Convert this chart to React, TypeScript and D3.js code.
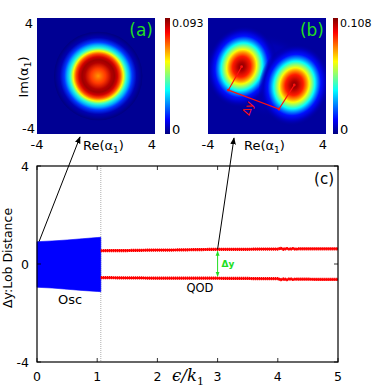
import * as d3 from "d3";

// ---- data ----
// panel (c): oscillating band envelope (Osc region)
const oscX = [0, 0.25, 0.5, 0.75, 1.0, 1.06];
const oscTop = [0.91, 0.94, 0.98, 1.03, 1.08, 1.09];
const oscBottom = [-0.95, -0.98, -1.03, -1.08, -1.12, -1.13];

// panel (c): QOD lobe positions
const qodX = [1.06, 1.25, 1.5, 1.75, 2.0, 2.25, 2.5, 2.75, 3.0, 3.25, 3.5, 3.75, 4.0, 4.05, 4.1, 4.15, 4.2, 4.25, 4.3, 4.35, 4.5, 4.75, 5.0];
const qodUpper = [0.54, 0.55, 0.55, 0.56, 0.57, 0.57, 0.58, 0.59, 0.6, 0.6, 0.6, 0.61, 0.61, 0.64, 0.6, 0.63, 0.6, 0.63, 0.6, 0.62, 0.62, 0.62, 0.62];
const qodLower = [-0.56, -0.56, -0.57, -0.57, -0.58, -0.58, -0.58, -0.58, -0.58, -0.59, -0.59, -0.6, -0.6, -0.64, -0.61, -0.64, -0.6, -0.63, -0.61, -0.62, -0.62, -0.63, -0.63];

const xTicksC = [0, 1, 2, 3, 4, 5];
const yTicksC = [-4, 0, 4];
const transitionX = 1.06;

// panel (a): radial profile of the ring (radius in alpha units, normalised value)
const ringR = [0, 0.5, 0.9, 1.1, 1.3, 1.5, 1.7, 1.9, 2.1, 2.3, 2.6, 3.0];
const ringV = [0.73, 0.82, 0.95, 0.97, 0.92, 0.8, 0.62, 0.42, 0.3, 0.18, 0.05, 0];
const ringCenter = [0.15, 0];
const maxA = "0.093";

// panel (b): two lobes
const lobeCenters = [[-1.72, 0.64], [1.85, -0.62]];
const lobeR = [0, 0.25, 0.6, 0.85, 1.0, 1.2, 1.38, 1.58, 1.78, 2.05, 2.4];
const lobeV = [1, 0.95, 0.85, 0.72, 0.62, 0.5, 0.38, 0.25, 0.14, 0.07, 0.02];
const maxB = "0.108";
// Δy guide in (b): corner points of the measuring bracket
const bracket = [[-1.72, 0.64], [-2.62, -0.97], [0.81, -2.28], [1.85, -0.62]];

// jet colormap stops
const jetStops = [0, 0.125, 0.375, 0.625, 0.875, 1];
const jetColors = ["#00007f", "#0000ff", "#00ffff", "#ffff00", "#ff0000", "#7f0000"];

const jet = d3.scaleLinear<string>().domain(jetStops).range(jetColors);

export default function App() {
  const font = "'DejaVu Sans', sans-serif";

  // scales
  const xC = d3.scaleLinear().domain([0, 5]).range([37, 338]);
  const yC = d3.scaleLinear().domain([-4, 4]).range([362, 166]);
  const xA = d3.scaleLinear().domain([-4, 4]).range([37, 155]);
  const xB = d3.scaleLinear().domain([-4, 4]).range([208, 326]);
  const yAB = d3.scaleLinear().domain([-4, 4]).range([134, 18]);
  const unit = xA(1) - xA(0);

  const band = d3
    .area<number>()
    .x((_, i) => xC(oscX[i]))
    .y0((_, i) => yC(oscBottom[i]))
    .y1((_, i) => yC(oscTop[i]));

  const line = d3
    .line<number>()
    .x((_, i) => xC(qodX[i]))
    .y((d) => yC(d));

  const bracketLine = d3
    .line<number[]>()
    .x((d) => xB(d[0]))
    .y((d) => yAB(d[1]));

  const iAt3 = qodX.indexOf(3);
  const ringMax = ringR[ringR.length - 1];
  const lobeMax = lobeR[lobeR.length - 1];

  return (
    <svg width={374} height={391} style={{ position: "absolute", left: 0, top: 0, background: "#fff" }} fontFamily={font}>
      <defs>
        <radialGradient id="ring">
          {ringR.map((r, i) => (
            <stop key={i} offset={r / ringMax} stopColor={jet(ringV[i])} />
          ))}
        </radialGradient>
        <radialGradient id="lobe">
          {lobeR.map((r, i) => (
            <stop key={i} offset={r / lobeMax} stopColor={jet(lobeV[i])} stopOpacity={i === lobeR.length - 1 ? 0 : 1} />
          ))}
        </radialGradient>
        <radialGradient id="halo">
          <stop offset={0} stopColor={jet(0.07)} stopOpacity={1} />
          <stop offset={0.75} stopColor={jet(0.05)} stopOpacity={1} />
          <stop offset={1} stopColor={jet(0.03)} stopOpacity={0} />
        </radialGradient>
        <linearGradient id="cbar" x1="0" y1="1" x2="0" y2="0">
          {jetStops.map((s, i) => (
            <stop key={i} offset={s} stopColor={jetColors[i]} />
          ))}
        </linearGradient>
        <clipPath id="clipA">
          <rect x={xA(-4)} y={yAB(4)} width={xA(4) - xA(-4)} height={yAB(-4) - yAB(4)} />
        </clipPath>
        <clipPath id="clipB">
          <rect x={xB(-4)} y={yAB(4)} width={xB(4) - xB(-4)} height={yAB(-4) - yAB(4)} />
        </clipPath>
        <marker id="arrK" viewBox="0 0 10 10" refX={9} refY={5} markerWidth={7} markerHeight={7} orient="auto-start-reverse">
          <path d="M0,1 L10,5 L0,9 Z" fill="#000" />
        </marker>
        <marker id="arrG" viewBox="0 0 10 10" refX={9} refY={5} markerWidth={5} markerHeight={5} orient="auto-start-reverse">
          <path d="M0,1 L10,5 L0,9 Z" fill="#22dd22" />
        </marker>
      </defs>

      {/* ---------- panel (a) ---------- */}
      <g clipPath="url(#clipA)">
        <rect x={xA(-4)} y={yAB(4)} width={xA(4) - xA(-4)} height={yAB(-4) - yAB(4)} fill={jet(0.02)} />
        <circle cx={xA(ringCenter[0])} cy={yAB(ringCenter[1])} r={ringMax * unit} fill="url(#ring)" />
      </g>
      <rect x={165} y={yAB(4)} width={5} height={yAB(-4) - yAB(4)} fill="url(#cbar)" />
      <text x={172} y={27} fontSize={11}>{maxA}</text>
      <text x={172} y={134} fontSize={13}>0</text>
      <text x={xA(4) - 2} y={36} fontSize={17} fill="#22dd22" textAnchor="end">(a)</text>
      <text x={33} y={28} fontSize={13} textAnchor="end">4</text>
      <text x={35} y={133} fontSize={13} textAnchor="end">-4</text>
      <text x={xA(-4)} y={149} fontSize={13} textAnchor="middle">-4</text>
      <text x={xA(4) - 3} y={149} fontSize={13} textAnchor="middle">4</text>
      <text x={83} y={150} fontSize={13}>
        Re(α<tspan fontSize={9} dy={3}>1</tspan><tspan dy={-3}>)</tspan>
      </text>
      <text transform="translate(28,77) rotate(-90)" fontSize={13} textAnchor="middle">
        Im(α<tspan fontSize={9} dy={3}>1</tspan><tspan dy={-3}>)</tspan>
      </text>

      {/* ---------- panel (b) ---------- */}
      <g clipPath="url(#clipB)">
        <rect x={xB(-4)} y={yAB(4)} width={xB(4) - xB(-4)} height={yAB(-4) - yAB(4)} fill={jet(0.03)} />
        <ellipse
          cx={xB(0.07)}
          cy={yAB(0.01)}
          rx={3.6 * unit}
          ry={2.8 * unit}
          fill="url(#halo)"
          transform={`rotate(19 ${xB(0.07)} ${yAB(0.01)})`}
        />
        {lobeCenters.map((c, i) => (
          <ellipse
            key={i}
            cx={xB(c[0])}
            cy={yAB(c[1])}
            rx={lobeMax * unit}
            ry={lobeMax * unit * 1.18}
            fill="url(#lobe)"
            transform={`rotate(15 ${xB(c[0])} ${yAB(c[1])})`}
          />
        ))}
        <path d={bracketLine(bracket) ?? ""} fill="none" stroke="#ff1010" strokeWidth={1.2} />
        {bracket.map((p, i) => (
          <circle key={i} cx={xB(p[0])} cy={yAB(p[1])} r={1.4} fill="#ff1010" />
        ))}
        <text transform="translate(249,116) rotate(-70)" fontSize={11} fill="#ff1010">Δy</text>
      </g>
      <rect x={333} y={yAB(4)} width={5} height={yAB(-4) - yAB(4)} fill="url(#cbar)" />
      <text x={340} y={27} fontSize={11}>{maxB}</text>
      <text x={340} y={134} fontSize={13}>0</text>
      <text x={xB(4) - 2} y={36} fontSize={17} fill="#22dd22" textAnchor="end">(b)</text>
      <text x={xB(-4)} y={149} fontSize={13} textAnchor="middle">-4</text>
      <text x={xB(4) - 3} y={149} fontSize={13} textAnchor="middle">4</text>
      <text x={244} y={150} fontSize={13}>
        Re(α<tspan fontSize={9} dy={3}>1</tspan><tspan dy={-3}>)</tspan>
      </text>

      {/* ---------- panel (c) ---------- */}
      <line x1={xC(transitionX)} x2={xC(transitionX)} y1={yC(4)} y2={yC(-4)} stroke="#999" strokeWidth={0.8} strokeDasharray="1,1" />
      <path d={band(oscX) ?? ""} fill="#0000ff" stroke="#0000ff" strokeWidth={0.6} />
      {[qodUpper, qodLower].map((s, i) => (
        <g key={i}>
          <path d={line(s) ?? ""} fill="none" stroke="#ff0000" strokeWidth={2} />
          <path d={line(s) ?? ""} fill="none" stroke="#ff0000" strokeWidth={3.2} strokeDasharray="1.3,0.7" />
        </g>
      ))}
      {/* frame and ticks */}
      <rect x={xC(0)} y={yC(4)} width={xC(5) - xC(0)} height={yC(-4) - yC(4)} fill="none" stroke="#000" strokeWidth={1.2} />
      {xTicksC.map((t) => (
        <g key={"x" + t}>
          <line x1={xC(t)} x2={xC(t)} y1={yC(-4)} y2={yC(-4) - 4} stroke="#000" strokeWidth={0.8} />
          <line x1={xC(t)} x2={xC(t)} y1={yC(4)} y2={yC(4) + 4} stroke="#000" strokeWidth={0.8} />
          <text x={xC(t)} y={381} fontSize={12.5} textAnchor="middle">{t}</text>
        </g>
      ))}
      {yTicksC.map((t) => (
        <g key={"y" + t}>
          <line x1={xC(0)} x2={xC(0) + 4} y1={yC(t)} y2={yC(t)} stroke="#000" strokeWidth={0.8} />
          <line x1={xC(5)} x2={xC(5) - 4} y1={yC(t)} y2={yC(t)} stroke="#000" strokeWidth={0.8} />
          <text x={29} y={yC(t) + 4.5} fontSize={12.5} textAnchor="end">{t}</text>
        </g>
      ))}
      <text transform="translate(12,258) rotate(-90)" fontSize={12.5} textAnchor="middle">Δy:Lob Distance</text>
      <text x={188} y={381} fontSize={16.5} fontFamily="'DejaVu Serif', serif" fontStyle="italic" textAnchor="middle">
        ϵ/k<tspan fontSize={11} fontStyle="normal" dy={4}>1</tspan>
      </text>
      <text x={334} y={184} fontSize={15} textAnchor="end">(c)</text>
      <text x={70} y={304} fontSize={13} textAnchor="middle">Osc</text>
      <text x={200} y={292} fontSize={11.5} textAnchor="middle">QOD</text>

      {/* Δy double arrow */}
      <line
        x1={xC(3)}
        x2={xC(3)}
        y1={yC(qodUpper[iAt3]) + 2}
        y2={yC(qodLower[iAt3]) - 2}
        stroke="#22dd22"
        strokeWidth={1}
        markerStart="url(#arrG)"
        markerEnd="url(#arrG)"
      />
      <text x={xC(3) + 4} y={yC(0) + 3} fontSize={9} fontWeight="bold" fill="#22dd22">Δy</text>

      {/* pointer arrows from (c) to the insets */}
      <line x1={xC(0) + 2} y1={yC(oscTop[0])} x2={80} y2={137} stroke="#000" strokeWidth={1} markerEnd="url(#arrK)" />
      <line x1={xC(3)} y1={yC(qodUpper[iAt3])} x2={234} y2={138} stroke="#000" strokeWidth={1} markerEnd="url(#arrK)" />
    </svg>
  );
}
